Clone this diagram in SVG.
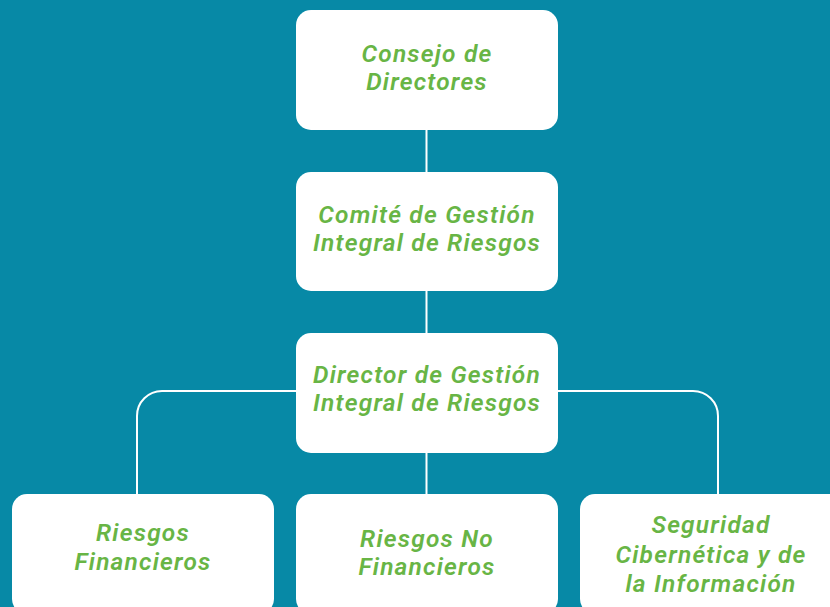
<svg xmlns="http://www.w3.org/2000/svg" width="830" height="607" viewBox="0 0 830 607">
<style>
.box{fill:#ffffff}
.lbl{font-family:Roboto,"Liberation Sans",sans-serif;font-size:24.5px;font-weight:600;font-style:italic;letter-spacing:1.2px;fill:#68B545;text-anchor:middle}
.conn{fill:none;stroke:#ffffff;stroke-width:2}
</style>
<rect width="830" height="607" fill="#0789A6"/>
<g id="connectors">
<line class="conn" x1="426.5" y1="130" x2="426.5" y2="172"/>
<line class="conn" x1="426.5" y1="291" x2="426.5" y2="333"/>
<line class="conn" x1="426.5" y1="453" x2="426.5" y2="494"/>
<path class="conn" d="M296 391 H162 A25 25 0 0 0 137 416 V494"/>
<path class="conn" d="M558 391 H693 A25 25 0 0 1 718 416 V494"/>
</g>
<g id="n1">
<rect class="box" x="296" y="10" width="262" height="120" rx="15"/>
<text class="lbl" x="427" y="62">Consejo de</text>
<text class="lbl" x="427" y="90">Directores</text>
</g>
<g id="n2">
<rect class="box" x="296" y="172" width="262" height="119" rx="15"/>
<text class="lbl" x="427" y="223">Comité de Gestión</text>
<text class="lbl" x="427" y="251">Integral de Riesgos</text>
</g>
<g id="n3">
<rect class="box" x="296" y="333" width="262" height="120" rx="15"/>
<text class="lbl" x="427" y="383">Director de Gestión</text>
<text class="lbl" x="427" y="411">Integral de Riesgos</text>
</g>
<g id="n4">
<rect class="box" x="12" y="494" width="262" height="120" rx="15"/>
<text class="lbl" x="143" y="541">Riesgos</text>
<text class="lbl" x="143" y="570">Financieros</text>
</g>
<g id="n5">
<rect class="box" x="296" y="494" width="262" height="120" rx="15"/>
<text class="lbl" x="427" y="547">Riesgos No</text>
<text class="lbl" x="427" y="575">Financieros</text>
</g>
<g id="n6">
<rect class="box" x="580" y="494" width="270" height="120" rx="15"/>
<text class="lbl" x="711" y="533">Seguridad</text>
<text class="lbl" x="711" y="563">Cibernética y de</text>
<text class="lbl" x="711" y="592">la Información</text>
</g>
</svg>
